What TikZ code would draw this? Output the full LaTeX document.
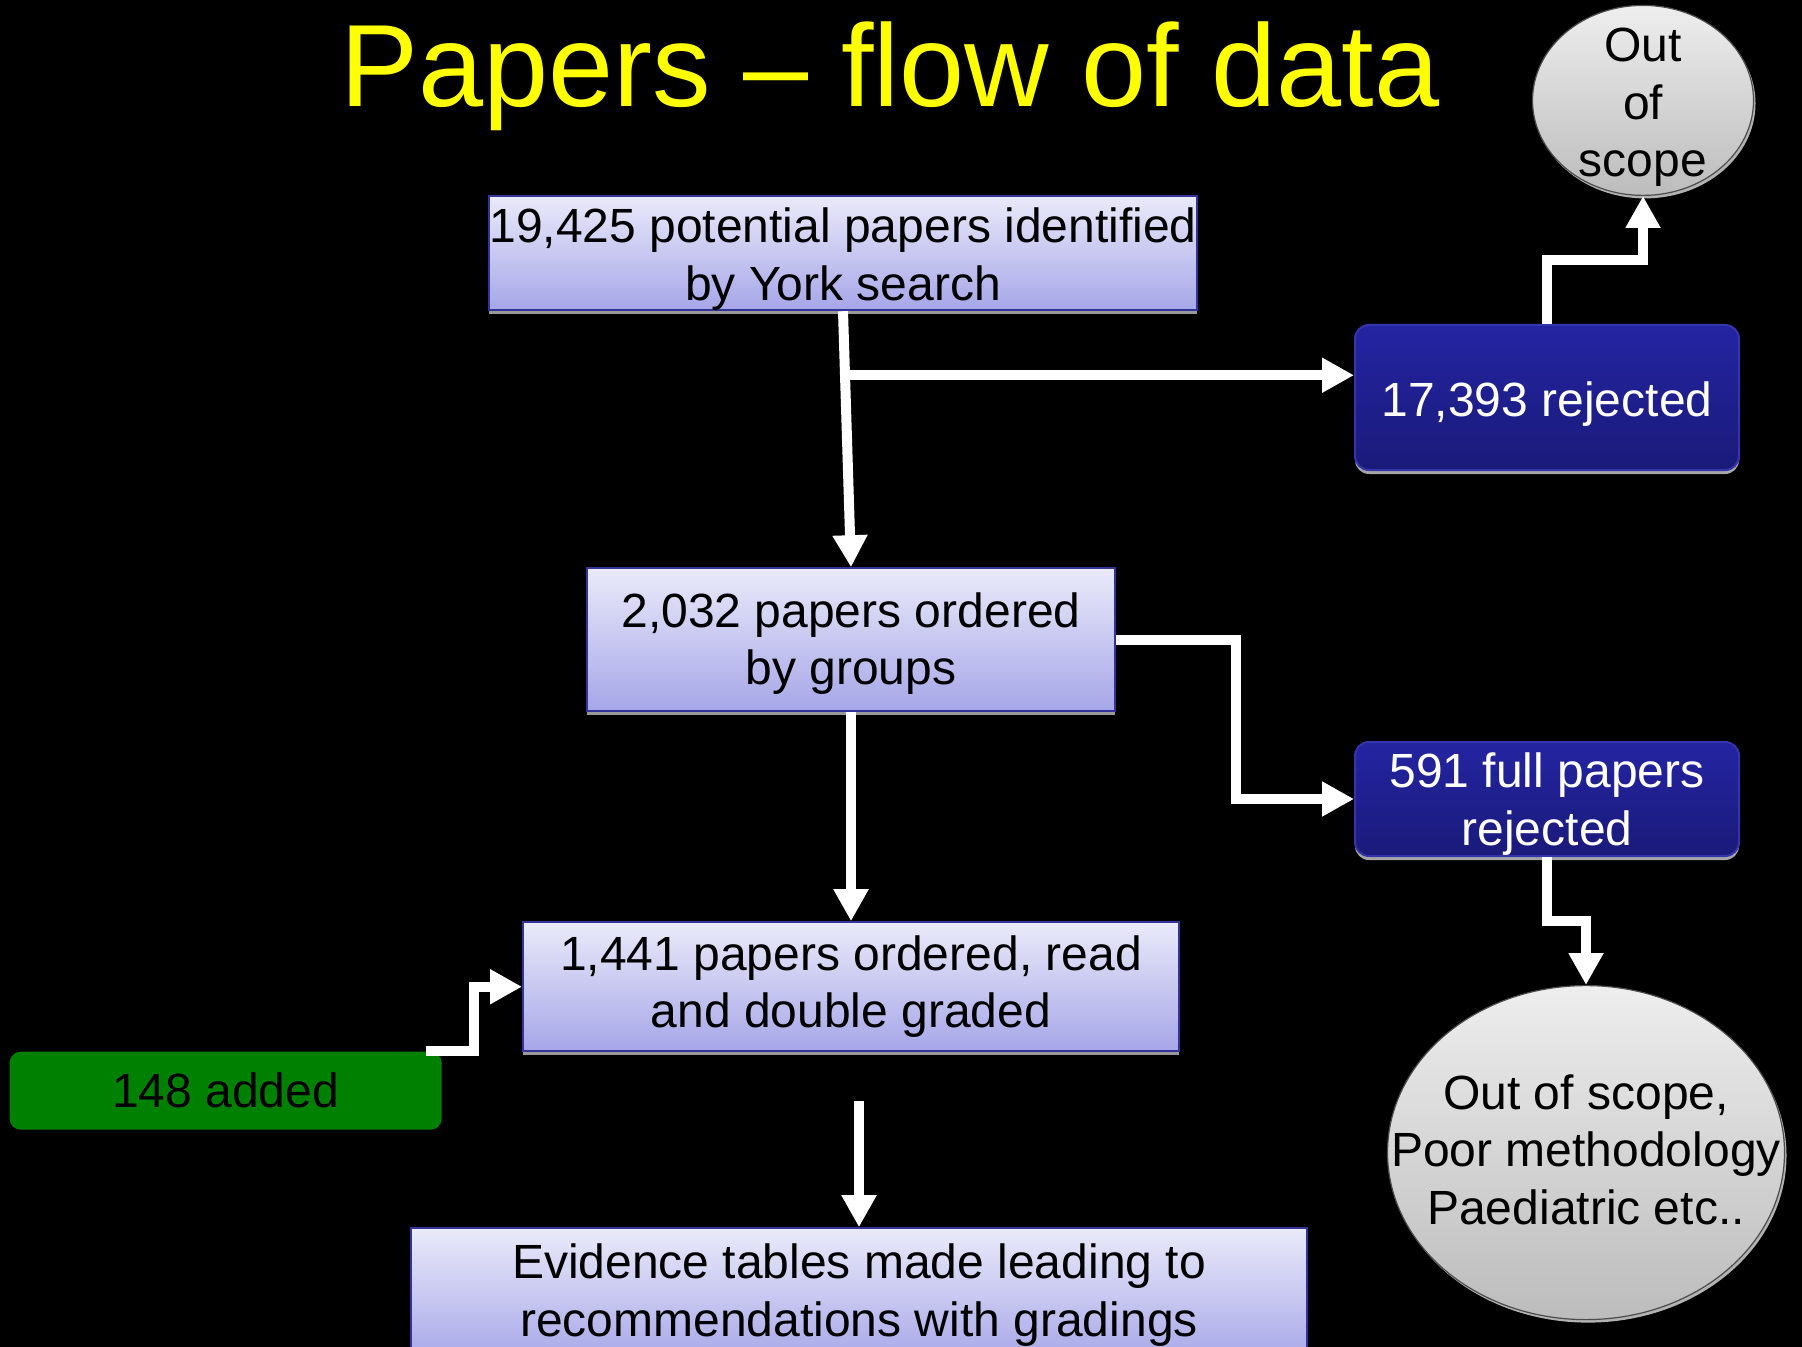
\documentclass[tikz,border=0pt]{standalone}
\usepackage{fontspec}
\setmainfont{Liberation Sans}
\usetikzlibrary{arrows.meta, positioning, shapes.geometric, shadows}

\definecolor{lilactop}{RGB}{234,234,250}
\definecolor{lilacbot}{RGB}{166,166,232}
\definecolor{lilacedge}{RGB}{51,51,153}
\definecolor{navytop}{RGB}{36,36,162}
\definecolor{navybot}{RGB}{26,26,122}
\definecolor{navyedge}{RGB}{52,52,172}
\definecolor{greytop}{RGB}{238,238,238}
\definecolor{greybot}{RGB}{188,188,188}
\definecolor{addgreen}{RGB}{0,128,0}
\definecolor{titleyellow}{RGB}{255,255,0}

\begin{document}
\begin{tikzpicture}[x=0.5pt, y=-0.5pt, font=\fontsize{24pt}{28.75pt}\selectfont, box/.style={rectangle, draw=lilacedge, line width=1pt, top color=lilactop, bottom color=lilacbot, align=center, inner sep=0pt, drop shadow={shadow xshift=0pt, shadow yshift=-2pt, fill=gray!80, opacity=1}}, reject/.style={rectangle, rounded corners=7pt, draw=navyedge, line width=1pt, top color=navytop, bottom color=navybot, text=white, align=center, inner sep=0pt, minimum width=192pt, drop shadow={shadow xshift=0pt, shadow yshift=-2pt, fill=gray!70, opacity=1}}, oval/.style={ellipse, draw=black!70, line width=0.6pt, top color=greytop, bottom color=greybot, drop shadow={shadow xshift=1pt, shadow yshift=-1.5pt, fill=gray!60, opacity=1}}, addbox/.style={rectangle, rounded corners=5.5pt, fill=addgreen, inner sep=0pt}, arrow/.style={draw=white, line width=5pt, -{Triangle[length=16pt, width=16.5pt]}}]
\useasboundingbox (0,0) rectangle (1802,1347);
\fill[black] (0,0) rectangle (1802,1347);

\node[anchor=base, text=titleyellow, font=\fontsize{58.5pt}{70pt}\selectfont] (title) at (890,107) {Papers -- flow of data};

% main column (the struts push the first line down a little)
\node[box, minimum width=352pt, minimum height=56pt] (york) at (843,253) {\rule{0pt}{23.5pt}19,425 potential papers identified\\by York search};
\node[box, below=128pt of york, xshift=4pt, minimum width=264pt, minimum height=71.5pt] (groups) {\rule{0pt}{21pt}2,032 papers ordered\\by groups};
\node[box, below=104.5pt of groups, minimum width=328pt, minimum height=64.5pt] (graded) {1,441 papers ordered, read\\and double graded};
\node[box, below=87.5pt of graded, xshift=4pt, minimum width=448pt, minimum height=67pt] (evidence) {Evidence tables made leading to\\recommendations with gradings};

% rejections on the right
\node[reject, minimum height=72.5pt] (rej) at (1547,397.5) {\rule{0pt}{23.5pt}17,393 rejected};
\node[reject, below=135pt of rej, minimum height=57pt] (full) {\rule{0pt}{22.5pt}591 full papers\\rejected};
\node[oval, above=64pt of rej, xshift=48pt, minimum width=110.5pt, minimum height=95pt, label={[align=center, yshift=-3.5pt]center:Out\\of\\scope}] (scope1) {};
\node[oval, below=64pt of full, xshift=19.5pt, minimum width=198.5pt, minimum height=167pt, label={[align=center, yshift=1.5pt]center:Out of scope,\\Poor methodology\\Paediatric etc..}] (scope2) {};

\node[addbox, left=40pt of graded, yshift=-52pt, minimum width=216pt, minimum height=39pt] (added) {148 added};

\draw[arrow] (york.south) -- coordinate[pos=0.25] (split) (groups.north);
\draw[arrow] (split) -- (split -| rej.west);
\draw[arrow] (rej.north) -- ++(0,32pt) -| (scope1.south);
\draw[arrow] (groups.east) -- ++(60pt,0) |- (full.west);
\draw[arrow] (groups.south) -- (graded.north);
\draw[arrow] (full.south) -- ++(0,-32pt) -| (scope2.north);
\draw[arrow] ([xshift=-8pt]added.north east) -- ++(24pt,0) |- (graded.west);
\path (evidence.north |- graded.south) ++(0,-24.5pt) coordinate (gap);
\draw[arrow] (gap) -- (evidence.north);
\end{tikzpicture}
\end{document}
